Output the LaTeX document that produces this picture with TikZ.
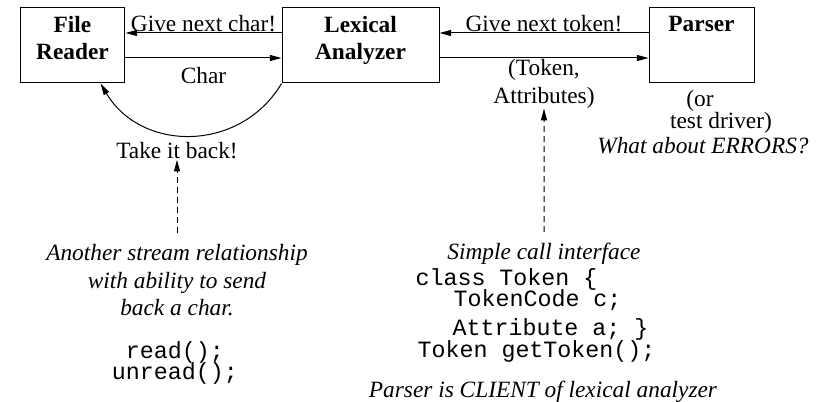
\documentclass[tikz,border=0pt]{standalone}
\usepackage{fontspec}
\setmainfont{Liberation Serif}
\setmonofont{Liberation Mono}
\usetikzlibrary{arrows.meta}
\newcommand{\dfont}{\fontsize{14}{16.5}\selectfont}

\begin{document}
\begin{tikzpicture}[x=0.6pt, y=-0.6pt, line width=0.6pt,
  box/.style={draw, inner sep=0, minimum height=45pt},
  boxlabel/.style={anchor=north, yshift=-4.8pt, inner sep=0, align=center, font=\dfont\bfseries},
  txt/.style={inner sep=0, font=\dfont},
  note/.style={inner sep=0, font=\dfont\itshape},
  code/.style={inner sep=0, anchor=base west, font=\dfont\ttfamily},
  flow/.style={-{Triangle[length=7pt, width=3.6pt]}},
  hint/.style={flow, dash pattern=on 3.6pt off 2.4pt}]

  \useasboundingbox (0,0) rectangle (825,402);

  % the three stages
  \node[box, minimum width=63pt, label={[boxlabel]north:{File\\Reader}}] (reader) at (72.5,45.5) {};
  \node[box, minimum width=94.2pt, label={[boxlabel]north:{Lexical\\Analyzer}}] (lexer) at (360.5,45.5) {};
  \node[box, minimum width=63pt, label={[boxlabel]north:{Parser}}] (parser) at (701.5,45.5) {};

  % requests and replies
  \draw[flow] ([yshift=7.5pt]lexer.west) -- node[txt, midway, anchor=base, yshift=0.6pt] (askchar) {Give next char!} ([yshift=7.5pt]reader.east);
  \draw[flow] ([yshift=-7.5pt]reader.east) -- node[txt, midway, anchor=base, yshift=-15.6pt] (char) {Char} ([yshift=-7.5pt]lexer.west);
  \draw[flow] ([yshift=7.5pt]parser.west) -- node[txt, midway, anchor=base, yshift=0.6pt] (asktok) {Give next token!} ([yshift=7.5pt]lexer.east);
  \draw[flow] ([yshift=-7.5pt]lexer.east) -- node[txt, midway, anchor=north, yshift=-0.6pt, align=center] (tokattr) {(Token,\\Attributes)} ([yshift=-7.5pt]parser.west);
  \draw[flow] (lexer.south west) .. controls (241,152) and (142,153) .. ([xshift=-15pt]reader.south east);

  \node[txt, anchor=base] (takeback) at (177,159) {Take it back!};
  \node[txt, anchor=base] (orpar) at (700,107) {(or};
  \node[txt, anchor=base] (driver) at (721,129) {test driver)};
  \node[note, anchor=base] (errors) at (703,154) {What about ERRORS?};

  % left notes
  \node[note, anchor=north, align=center] (stream) at (177,244) {Another stream relationship\\with ability to send\\back a char.};
  \node[txt, anchor=base, font=\dfont\ttfamily] (rd) at (175,359) {read();};
  \node[txt, anchor=base, font=\dfont\ttfamily] (unrd) at (175,380) {unread();};

  % right notes
  \node[note, anchor=base] (simple) at (544,260) {Simple call interface};
  \node[code] (cls) at (415,286) {class Token \{};
  \node[code] (fcode) at (453,307) {TokenCode c;};
  \node[code] (fattr) at (452,335) {Attribute a; \}};
  \node[code] (gettok) at (417,358) {Token getToken();};
  \node[note, anchor=base] (client) at (543,397) {Parser is CLIENT of lexical analyzer};

  \draw[hint] ([yshift=6.6pt]stream.north) -- (takeback.south);
  \draw[hint] ([yshift=6.6pt]simple.north) -- (tokattr.south);
\end{tikzpicture}
\end{document}
